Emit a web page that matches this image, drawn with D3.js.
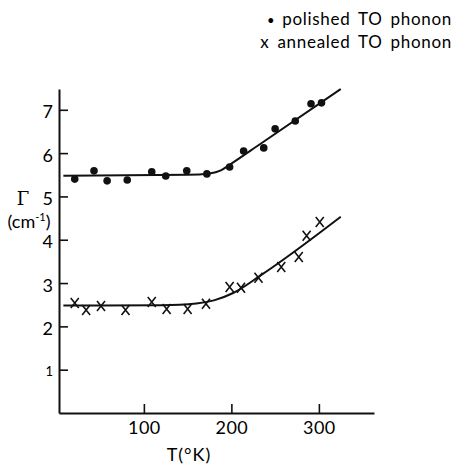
<!DOCTYPE html>
<html>
<head>
<meta charset="utf-8">
<script src="https://cdn.jsdelivr.net/npm/d3@7"></script>
<style>
  body { margin: 0; background: #fff; }
  svg text { font-family: Lato, "DejaVu Sans", sans-serif; font-weight: 400; fill: #000; }
</style>
</head>
<body>
<div id="chart"></div>
<script>
// measured points: T (K) and linewidth Gamma (cm^-1)
const polishedT = [21, 43, 58, 81, 109, 125, 149, 172, 198, 214, 237, 250, 273, 291, 303];
const polishedG = [5.40, 5.59, 5.36, 5.38, 5.57, 5.47, 5.59, 5.52, 5.68, 6.05, 6.12, 6.56, 6.74, 7.14, 7.16];
const annealedT = [21, 34, 51, 79, 109, 126, 150, 171, 198, 211, 231, 257, 277, 286, 301];
const annealedG = [2.54, 2.38, 2.47, 2.38, 2.56, 2.40, 2.40, 2.52, 2.91, 2.89, 3.12, 3.37, 3.60, 4.09, 4.41];

// hand-drawn fit curves
const polishedFitT = [8, 150, 175, 188, 198, 233, 325];
const polishedFitG = [5.48, 5.50, 5.53, 5.60, 5.73, 6.21, 7.48];
const annealedFitT = [8, 120, 160, 180, 202, 233, 325];
const annealedFitG = [2.48, 2.49, 2.53, 2.60, 2.77, 3.17, 4.53];

const xTicks = [100, 200, 300];
const yTicks = [1, 2, 3, 4, 5, 6, 7];
const legendSymbols = ["\u2022", "x"];
const legendLabels = ["polished TO phonon", "annealed TO phonon"];

const width = 456, height = 466;

const svg = d3.select("#chart").append("svg")
  .attr("width", width)
  .attr("height", height);

const x = d3.scaleLinear().domain([3, 363]).range([59, 374]);
const y = d3.scaleLinear().domain([0, 7.48]).range([413, 89]);

// axes, ticks point inward
const xAxis = svg.append("g")
  .attr("transform", `translate(0,${y(0)})`)
  .call(d3.axisBottom(x).tickValues(xTicks).tickSizeInner(-9).tickSizeOuter(0).tickPadding(8));
const yAxis = svg.append("g")
  .attr("transform", `translate(${x(3)},0)`)
  .call(d3.axisLeft(y).tickValues(yTicks).tickSizeInner(-9).tickSizeOuter(0).tickPadding(6));

[xAxis, yAxis].forEach(a => {
  a.select(".domain").attr("stroke", "#111").attr("stroke-width", 2);
  a.selectAll(".tick line").attr("stroke", "#111").attr("stroke-width", 1.6);
  a.selectAll(".tick text").style("font-size", "18px").attr("fill", "#000");
});
xAxis.selectAll(".tick text").style("letter-spacing", "0.5px");
yAxis.selectAll(".tick text").attr("dy", "0.45em");
yAxis.selectAll(".tick text").filter(d => d === 1).attr("fill", "#999").style("font-size", "13px");

// fit curves
const line = d3.line().x(d => x(d[0])).y(d => y(d[1])).curve(d3.curveMonotoneX);
[[polishedFitT, polishedFitG], [annealedFitT, annealedFitG]].forEach(([ts, gs]) => {
  svg.append("path")
    .datum(ts.map((t, i) => [t, gs[i]]))
    .attr("d", line)
    .attr("fill", "none")
    .attr("stroke", "#111")
    .attr("stroke-width", 2);
});

// polished: filled dots
svg.append("g").selectAll("circle")
  .data(polishedT.map((t, i) => [t, polishedG[i]]))
  .join("circle")
  .attr("cx", d => x(d[0]))
  .attr("cy", d => y(d[1]))
  .attr("r", 3.8)
  .attr("fill", "#111");

// annealed: x marks
svg.append("g").selectAll("path")
  .data(annealedT.map((t, i) => [t, annealedG[i]]))
  .join("path")
  .attr("transform", d => `translate(${x(d[0])},${y(d[1])})`)
  .attr("d", "M-4,-5L4,5M4,-5L-4,5")
  .attr("stroke", "#111")
  .attr("stroke-width", 1.6)
  .attr("fill", "none");

// axis labels
svg.append("text")
  .attr("x", 189).attr("y", 461)
  .attr("text-anchor", "middle")
  .style("font-size", "18px")
  .style("letter-spacing", "1px")
  .text("T(\u00b0K)");

svg.append("text")
  .attr("x", 23).attr("y", 205)
  .attr("text-anchor", "middle")
  .style("font-size", "18px")
  .style("font-family", "'DejaVu Serif', serif")
  .text("\u0393");

const unit = svg.append("text")
  .attr("x", 29).attr("y", 228)
  .attr("text-anchor", "middle")
  .style("font-size", "18px");
unit.append("tspan").text("(cm");
unit.append("tspan").attr("dy", -7).style("font-size", "11px").text("-1");
unit.append("tspan").attr("dy", 7).text(")");

// legend
const legend = svg.append("g").selectAll("text")
  .data(legendLabels)
  .join("text")
  .attr("x", 452)
  .attr("y", (d, i) => 25 + i * 23)
  .attr("text-anchor", "end")
  .style("font-size", "17px")
  .style("letter-spacing", "0.7px")
  .style("word-spacing", "3px");
legend.append("tspan")
  .style("font-size", (d, i) => i === 0 ? "13px" : "17px")
  .text((d, i) => legendSymbols[i] + " ");
legend.append("tspan").text(d => d);
</script>
</body>
</html>
